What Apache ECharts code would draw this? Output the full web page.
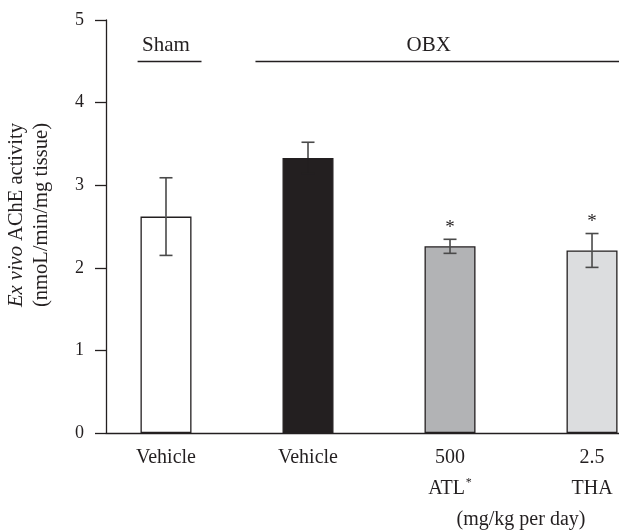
<!DOCTYPE html>
<html><head><meta charset="utf-8">
<script src="https://cdn.jsdelivr.net/npm/echarts@6/dist/echarts.min.js"></script>
<style>html,body{margin:0;padding:0;background:#fff}#c{width:619px;height:532px}</style>
</head><body><div id="c"></div>
<script>
// ---- data ----
const categories = ['Vehicle', 'Vehicle', '500\nATL*', '2.5\nTHA'];
const means = [2.62, 3.33, 2.26, 2.21];
const sem = [0.47, 0.19, 0.085, 0.205];
const significant = [false, false, true, true];
const yTicks = [0, 1, 2, 3, 4, 5];
const groupLabels = ['Sham', 'OBX'];
const groupLabelPos = [0, 1.85];
const groupLines = [[-0.2, 0.25], [0.63, 3.19]];
const groupLineLevel = 4.5;
const doseUnit = '(mg/kg per day)';
const doseUnitPos = 2.5;
const yTitle1 = 'Ex vivo';
const yTitle2 = ' AChE activity';
const yTitle3 = '(nmoL/min/mg tissue)';

// ---- style ----
const FONT = '"Liberation Serif", "DejaVu Serif", serif';
const FS = 20;
const INK = '#231f20';
const barColors = ['#ffffff', '#231f20', '#b2b3b5', '#dcdddf'];
const ERR = '#4a4a4a';
const X_MIN = -0.4225, X_MAX = 3.19;

const chart = echarts.init(document.getElementById('c'), null, {renderer: 'canvas'});

const option = {
  animation: false,
  backgroundColor: '#ffffff',
  grid: {left: 106, right: 0, top: 20, bottom: 99, containLabel: false, outerBoundsMode: 'none'},
  xAxis: [{
    type: 'value',
    min: X_MIN, max: X_MAX,
    axisLine: {show: true, onZero: false, lineStyle: {color: INK, width: 1.3}},
    axisTick: {show: false},
    splitLine: {show: false},
    axisLabel: {
      customValues: categories.map((c, i) => i),
      hideOverlap: false,
      margin: 9,
      color: INK,
      fontFamily: FONT,
      fontSize: FS,
      lineHeight: 31,
      formatter: function (v) {
        const s = categories[Math.round(v)] || '';
        return s.replace('*', '{sup|*}');
      },
      rich: {
        sup: {fontSize: 12, fontFamily: FONT, color: INK, verticalAlign: 'top', lineHeight: 31, padding: [4, 0, 0, 1]}
      }
    }
  }, {
    type: 'value',
    position: 'bottom',
    min: X_MIN, max: X_MAX,
    axisLine: {show: false},
    axisTick: {show: false},
    splitLine: {show: false},
    axisLabel: {
      customValues: [doseUnitPos],
      margin: 71,
      color: INK,
      fontFamily: FONT,
      fontSize: FS,
      lineHeight: 31,
      formatter: function () { return doseUnit; }
    }
  }],
  yAxis: {
    type: 'value',
    min: yTicks[0], max: yTicks[yTicks.length - 1], interval: 1,
    axisLine: {show: true, onZero: false, lineStyle: {color: INK, width: 1.3}},
    axisTick: {show: true, length: 11, inside: false, lineStyle: {color: INK, width: 1.3}},
    splitLine: {show: false},
    axisLabel: {margin: 22, color: INK, fontFamily: FONT, fontSize: 18}
  },
  graphic: [{
    type: 'text',
    x: 29.5, y: 215,
    rotation: Math.PI / 2,
    style: {
      text: '{i|' + yTitle1 + '}' + yTitle2 + '\n' + yTitle3,
      fill: INK,
      fontFamily: FONT,
      fontSize: 20.5,
      lineHeight: 25,
      align: 'center',
      verticalAlign: 'middle',
      rich: {
        i: {fontStyle: 'italic', fontFamily: FONT, fontSize: 20.5, lineHeight: 25, fill: INK}
      }
    }
  }],
  series: [
    {
      type: 'bar',
      barWidth: 51,
      data: means.map((m, i) => ({value: [i, m], itemStyle: {color: barColors[i]}})),
      itemStyle: {borderColor: INK, borderWidth: 1.3},
      z: 2
    },
    {
      type: 'custom',
      z: 3,
      data: means.map((m, i) => [i, m - sem[i], m + sem[i], m]),
      renderItem: function (params, api) {
        const i = params.dataIndex;
        const x = api.value(0);
        const pHi = api.coord([x, api.value(2)]);
        const pLo = api.coord([x, api.value(1)]);
        const pM = api.coord([x, api.value(3)]);
        const half = 6.5;
        const lowColor = (barColors[i] === INK) ? INK : ERR;
        const st = {stroke: ERR, lineWidth: 1.6};
        return {
          type: 'group',
          children: [
            {type: 'line', shape: {x1: pHi[0], y1: pHi[1], x2: pM[0], y2: pM[1]}, style: st},
            {type: 'line', shape: {x1: pHi[0] - half, y1: pHi[1], x2: pHi[0] + half, y2: pHi[1]}, style: st},
            {type: 'line', shape: {x1: pM[0], y1: pM[1], x2: pLo[0], y2: pLo[1]}, style: {stroke: lowColor, lineWidth: 1.6}},
            {type: 'line', shape: {x1: pLo[0] - half, y1: pLo[1], x2: pLo[0] + half, y2: pLo[1]}, style: {stroke: lowColor, lineWidth: 1.6}}
          ]
        };
      }
    },
    {
      type: 'scatter',
      symbolSize: 0,
      z: 4,
      itemStyle: {opacity: 1},
      data: means.map((m, i) => significant[i] ? [i, m + sem[i]] : null).filter(d => d),
      label: {show: true, position: 'top', distance: 2, formatter: '*', color: INK, fontFamily: FONT, fontSize: 19}
    },
    {
      type: 'scatter',
      symbolSize: 0,
      z: 4,
      itemStyle: {opacity: 1},
      data: groupLabels.map((g, i) => ({value: [groupLabelPos[i], groupLineLevel], name: g})),
      label: {show: true, position: 'top', distance: 5, formatter: '{b}', color: INK, fontFamily: FONT, fontSize: 21},
      markLine: {
        silent: true,
        symbol: 'none',
        label: {show: false},
        lineStyle: {color: INK, width: 1.3, type: 'solid'},
        data: groupLines.map(r => [{coord: [r[0], groupLineLevel]}, {coord: [r[1], groupLineLevel]}])
      }
    }
  ]
};
chart.setOption(option);
</script>
</body></html>
